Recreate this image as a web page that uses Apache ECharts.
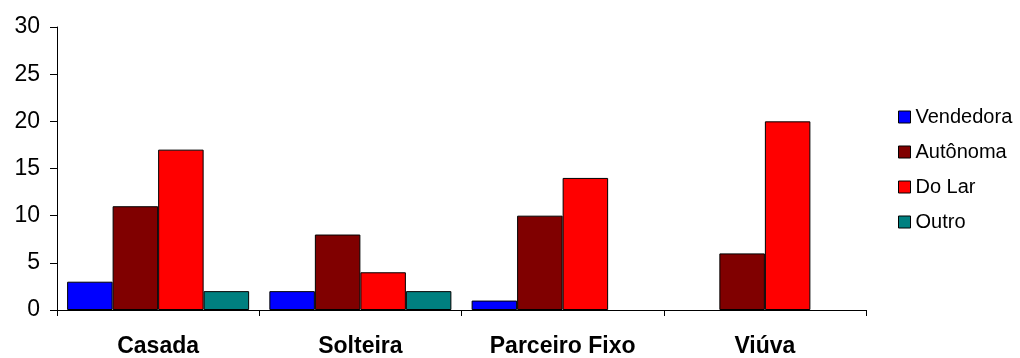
<!DOCTYPE html>
<html><head><meta charset="utf-8">
<script src="https://cdn.jsdelivr.net/npm/echarts@6/dist/echarts.min.js"></script>
<style>html,body{margin:0;padding:0;background:#fff}#c{width:1020px;height:358px}</style>
</head><body><div id="c"></div>
<script>
const categories = ['Casada', 'Solteira', 'Parceiro Fixo', 'Viúva'];
const vendedora = [3, 2, 1, null];
const autonoma = [11, 8, 10, 6];
const doLar = [17, 4, 14, 20];
const outro = [2, 2, null, null];
const seriesNames = ['Vendedora', 'Autônoma', 'Do Lar', 'Outro'];
const colors = ['#0000FF', '#800000', '#FF0000', '#008080'];
const values = [vendedora, autonoma, doLar, outro];

const chart = echarts.init(document.getElementById('c'));
const font = 'Liberation Sans, Arial, sans-serif';
chart.setOption({
  animation: false,
  grid: { left: 57, right: 154, top: 27, bottom: 48 },
  legend: {
    orient: 'vertical', left: 893, top: 102,
    itemWidth: 12, itemHeight: 12, itemGap: 15,
    textStyle: { fontFamily: font, fontSize: 20, color: '#000', padding: [0, 0, 0, 0] },
    data: seriesNames.map(n => ({ name: n, icon: 'rect', itemStyle: { borderColor: '#000', borderWidth: 1 } }))
  },
  xAxis: {
    type: 'category', data: categories,
    axisLine: { lineStyle: { color: '#000', width: 1 } },
    axisTick: { show: true, length: 6, lineStyle: { color: '#000' } },
    axisLabel: { fontFamily: font, fontSize: 23, fontWeight: 'bold', color: '#000', margin: 25 }
  },
  yAxis: {
    type: 'value', min: 0, max: 30, interval: 5,
    axisLine: { show: true, lineStyle: { color: '#000', width: 1 } },
    axisTick: { show: true, length: 7, lineStyle: { color: '#000' } },
    splitLine: { show: false },
    axisLabel: { fontFamily: font, fontSize: 23, color: '#000', margin: 17 }
  },
  series: seriesNames.map((n, i) => ({
    name: n, type: 'bar', data: values[i],
    barGap: '0%', barCategoryGap: '10%',
    itemStyle: { color: colors[i], borderColor: '#000', borderWidth: 1 }
  }))
});
</script></body></html>
